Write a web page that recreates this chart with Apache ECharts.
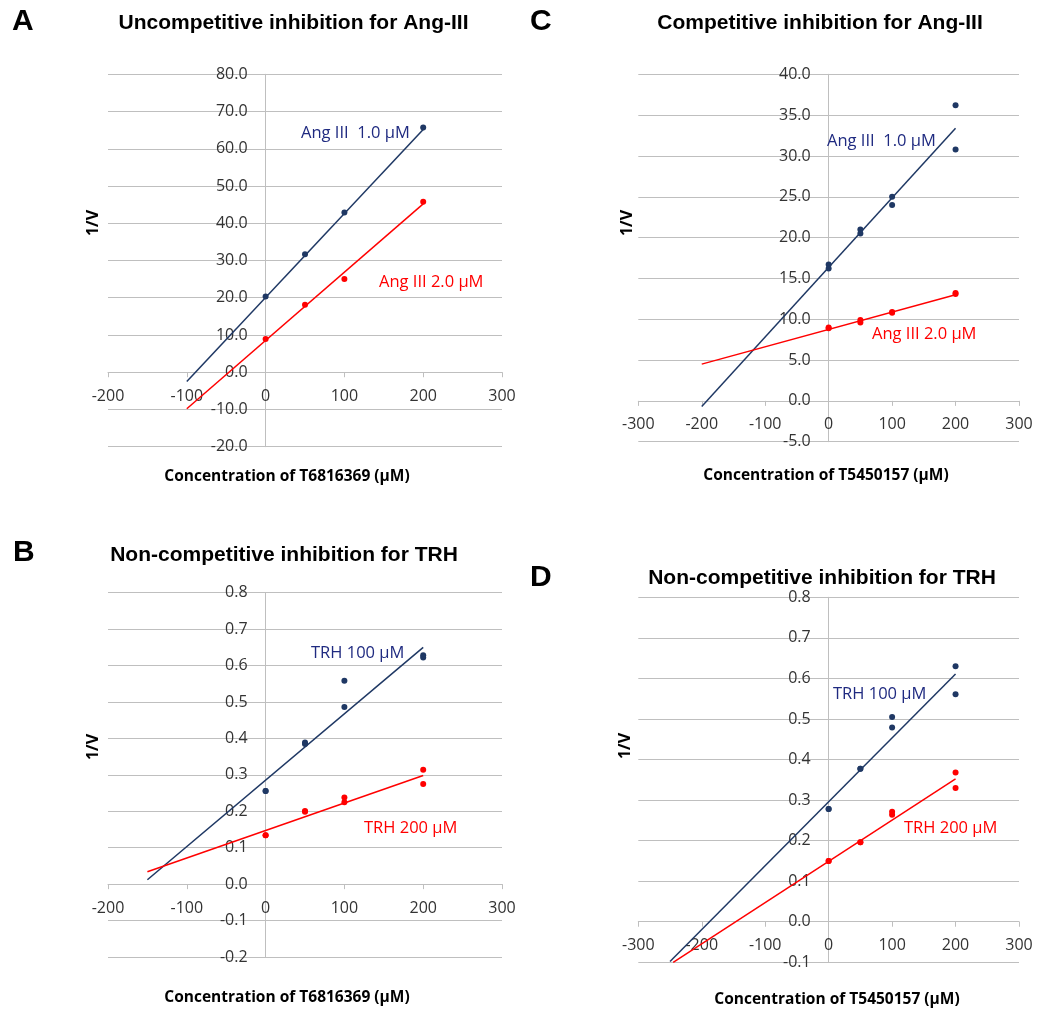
<!DOCTYPE html>
<html>
<head>
<meta charset="utf-8">
<script src="https://cdn.jsdelivr.net/npm/echarts@6/dist/echarts.min.js"></script>
<style>
  html, body { margin: 0; padding: 0; background: #fff; }
  #chart { width: 1047px; height: 1012px; }
</style>
</head>
<body>
<div id="chart"></div>
<script>
// ---------- DATA ----------
// Panel A (uncompetitive, Ang-III)
const xA = [0, 50, 100, 200];
const aBlue = [20.3, 31.7, 42.9, 65.7];
const aRed = [8.9, 18.1, 25.0, 45.8];
const aTrendX = [-100, 200];
const aTrendBlue = [-2.5, 65.2];
const aTrendRed = [-9.8, 45.2];

// Panel C (competitive, Ang-III)
const xC = [0, 0, 50, 50, 100, 100, 200, 200];
const cBlue = [16.7, 16.2, 21.0, 20.5, 25.0, 24.0, 36.2, 30.8];
const cRed = [9.0, 8.9, 9.9, 9.6, 10.9, 10.8, 13.2, 13.1];
const cTrendX = [-200, 200];
const cTrendBlue = [-0.7, 33.4];
const cTrendRed = [4.5, 13.0];

// Panel B (non-competitive, TRH, T6816369)
const xB = [0, 0, 50, 50, 100, 100, 200, 200];
const bBlue = [0.256, 0.256, 0.389, 0.385, 0.558, 0.486, 0.628, 0.622];
const bRed = [0.134, 0.134, 0.201, 0.199, 0.238, 0.225, 0.314, 0.275];
const bTrendX = [-150, 200];
const bTrendBlue = [0.012, 0.650];
const bTrendRed = [0.034, 0.298];

// Panel D (non-competitive, TRH, T5450157)
const xD = [0, 0, 50, 50, 100, 100, 200, 200];
const dBlue = [0.278, 0.278, 0.377, 0.377, 0.505, 0.479, 0.630, 0.561];
const dRed = [0.150, 0.150, 0.196, 0.196, 0.271, 0.264, 0.368, 0.330];
const dTrendBlueX = [-250, 200];
const dTrendBlue = [-0.098, 0.611];
const dTrendRedX = [-245, 200];
const dTrendRed = [-0.1, 0.352];

// Text
const titles = ['Uncompetitive inhibition for Ang-III', 'Competitive inhibition for Ang-III',
                'Non-competitive inhibition for TRH', 'Non-competitive inhibition for TRH'];
const letters = ['A', 'C', 'B', 'D'];
const xNames = ['Concentration of T6816369 (\u00B5M)', 'Concentration of T5450157 (\u00B5M)',
                'Concentration of T6816369 (\u00B5M)', 'Concentration of T5450157 (\u00B5M)'];
const blueLabels = ['Ang III  1.0 \u00B5M', 'Ang III  1.0 \u00B5M', 'TRH 100 \u00B5M', 'TRH 100 \u00B5M'];
const redLabels = ['Ang III 2.0 \u00B5M', 'Ang III 2.0 \u00B5M', 'TRH 200 \u00B5M', 'TRH 200 \u00B5M'];

// Axis ranges [min, max, interval]
const xRanges = [[-200, 300, 100], [-300, 300, 100], [-200, 300, 100], [-300, 300, 100]];
const yRanges = [[-20, 80, 10], [-5, 40, 5], [-0.2, 0.8, 0.1], [-0.1, 0.8, 0.1]];

// ---------- LAYOUT / STYLE ----------
const BLUE = '#1F3864';
const BLUE_TXT = '#1F2A80';
const RED = '#FF0000';
const GRID = '#BFBFBF';
const LABEL = '#333333';
const TICK_FONT = '"Open Sans", "DejaVu Sans", sans-serif';

const grids = [
  { left: 108, top: 74.3, width: 394, height: 372.4 },
  { left: 638.3, top: 74.3, width: 380.7, height: 367.4 },
  { left: 108, top: 592.7, width: 394, height: 364.3 },
  { left: 638.3, top: 597.3, width: 380.7, height: 365 }
];

const zip = (xs, ys) => xs.map((x, i) => [x, ys[i]]);

const panels = [
  { blue: zip(xA, aBlue), red: zip(xA, aRed), tb: zip(aTrendX, aTrendBlue), tr: zip(aTrendX, aTrendRed) },
  { blue: zip(xC, cBlue), red: zip(xC, cRed), tb: zip(cTrendX, cTrendBlue), tr: zip(cTrendX, cTrendRed) },
  { blue: zip(xB, bBlue), red: zip(xB, bRed), tb: zip(bTrendX, bTrendBlue), tr: zip(bTrendX, bTrendRed) },
  { blue: zip(xD, dBlue), red: zip(xD, dRed), tb: zip(dTrendBlueX, dTrendBlue), tr: zip(dTrendRedX, dTrendRed) }
];

// Axes cross at zero: shift each axis inward from the grid edge by the zero position.
const xAxes = xRanges.map((r, i) => {
  const yr = yRanges[i];
  const off = -grids[i].height * (0 - yr[0]) / (yr[1] - yr[0]);
  return {
    type: 'value', gridIndex: i, min: r[0], max: r[1], interval: r[2],
    position: 'bottom', offset: off,
    axisLine: { show: true, onZero: false, lineStyle: { color: GRID, width: 1 } },
    axisTick: { show: true, length: 5, lineStyle: { color: GRID } },
    splitLine: { show: false },
    axisLabel: { color: LABEL, fontFamily: TICK_FONT, fontSize: 16, margin: 16, showMinLabel: true, showMaxLabel: true }
  };
});

const yAxes = yRanges.map((r, i) => {
  const xr = xRanges[i];
  const off = -grids[i].width * (0 - xr[0]) / (xr[1] - xr[0]);
  return {
    type: 'value', gridIndex: i, min: r[0], max: r[1], interval: r[2],
    position: 'left', offset: off,
    axisLine: { show: true, onZero: false, lineStyle: { color: GRID, width: 1 } },
    axisTick: { show: false },
    splitLine: { show: true, lineStyle: { color: GRID, width: 1 } },
    axisLabel: { color: LABEL, fontFamily: TICK_FONT, fontSize: 16, margin: 18,
      showMinLabel: true, showMaxLabel: true,
      formatter: v => (Math.round(v * 10) / 10).toFixed(1) }
  };
});

const series = [];
panels.forEach((p, i) => {
  series.push({ type: 'line', xAxisIndex: i, yAxisIndex: i, data: p.tb, showSymbol: false, symbol: 'none',
    lineStyle: { color: BLUE, width: 1.5 }, z: 2, silent: true });
  series.push({ type: 'line', xAxisIndex: i, yAxisIndex: i, data: p.tr, showSymbol: false, symbol: 'none',
    lineStyle: { color: RED, width: 1.5 }, z: 2, silent: true });
  series.push({ type: 'scatter', xAxisIndex: i, yAxisIndex: i, data: p.blue, symbol: 'circle', symbolSize: 6,
    itemStyle: { color: BLUE, opacity: 1 }, z: 3 });
  series.push({ type: 'scatter', xAxisIndex: i, yAxisIndex: i, data: p.red, symbol: 'circle', symbolSize: 6,
    itemStyle: { color: RED, opacity: 1 }, z: 3 });
});

// Text placement (pixels)
const titlePos = [[293.5, 23], [820, 23], [284, 555], [822, 578]];
const letterPos = [[12, 22], [530, 22], [13, 553], [530, 578]];
const xNamePos = [[287, 477], [826, 476], [287, 998], [837, 1000]];
const yNamePos = [[93, 223], [627, 223], [93.5, 747], [625, 746]];
const bluePos = [[301, 133], [827, 141], [311, 653], [833, 694]];
const redPos = [[379, 282], [872, 334], [364, 828], [904, 828]];

const graphic = [];
for (let i = 0; i < 4; i++) {
  graphic.push({ type: 'text', x: titlePos[i][0], y: titlePos[i][1], z: 10,
    style: { text: titles[i], fill: '#000', font: 'bold 21px "Liberation Sans", Arial, sans-serif', align: 'center', verticalAlign: 'middle' } });
  graphic.push({ type: 'text', x: letterPos[i][0], y: letterPos[i][1], z: 10,
    style: { text: letters[i], fill: '#000', font: 'bold 30px "Liberation Sans", Arial, sans-serif', align: 'left', verticalAlign: 'middle' } });
  graphic.push({ type: 'text', x: xNamePos[i][0], y: xNamePos[i][1], z: 10,
    style: { text: xNames[i], fill: '#000', font: 'bold 15.5px "Open Sans", sans-serif', align: 'center', verticalAlign: 'middle' } });
  graphic.push({ type: 'text', x: yNamePos[i][0], y: yNamePos[i][1], rotation: Math.PI / 2, z: 10,
    style: { text: '1/V', fill: '#000', font: 'bold 16px "Open Sans", sans-serif', align: 'center', verticalAlign: 'middle' } });
  graphic.push({ type: 'text', x: bluePos[i][0], y: bluePos[i][1], z: 10,
    style: { text: blueLabels[i], fill: BLUE_TXT, font: '16.5px "Open Sans", sans-serif', align: 'left', verticalAlign: 'middle' } });
  graphic.push({ type: 'text', x: redPos[i][0], y: redPos[i][1], z: 10,
    style: { text: redLabels[i], fill: RED, font: '16.5px "Open Sans", sans-serif', align: 'left', verticalAlign: 'middle' } });
}

const chart = echarts.init(document.getElementById('chart'), null, { renderer: 'canvas' });
chart.setOption({
  animation: false,
  backgroundColor: '#fff',
  grid: grids,
  xAxis: xAxes,
  yAxis: yAxes,
  series: series,
  graphic: graphic
});
</script>
</body>
</html>
